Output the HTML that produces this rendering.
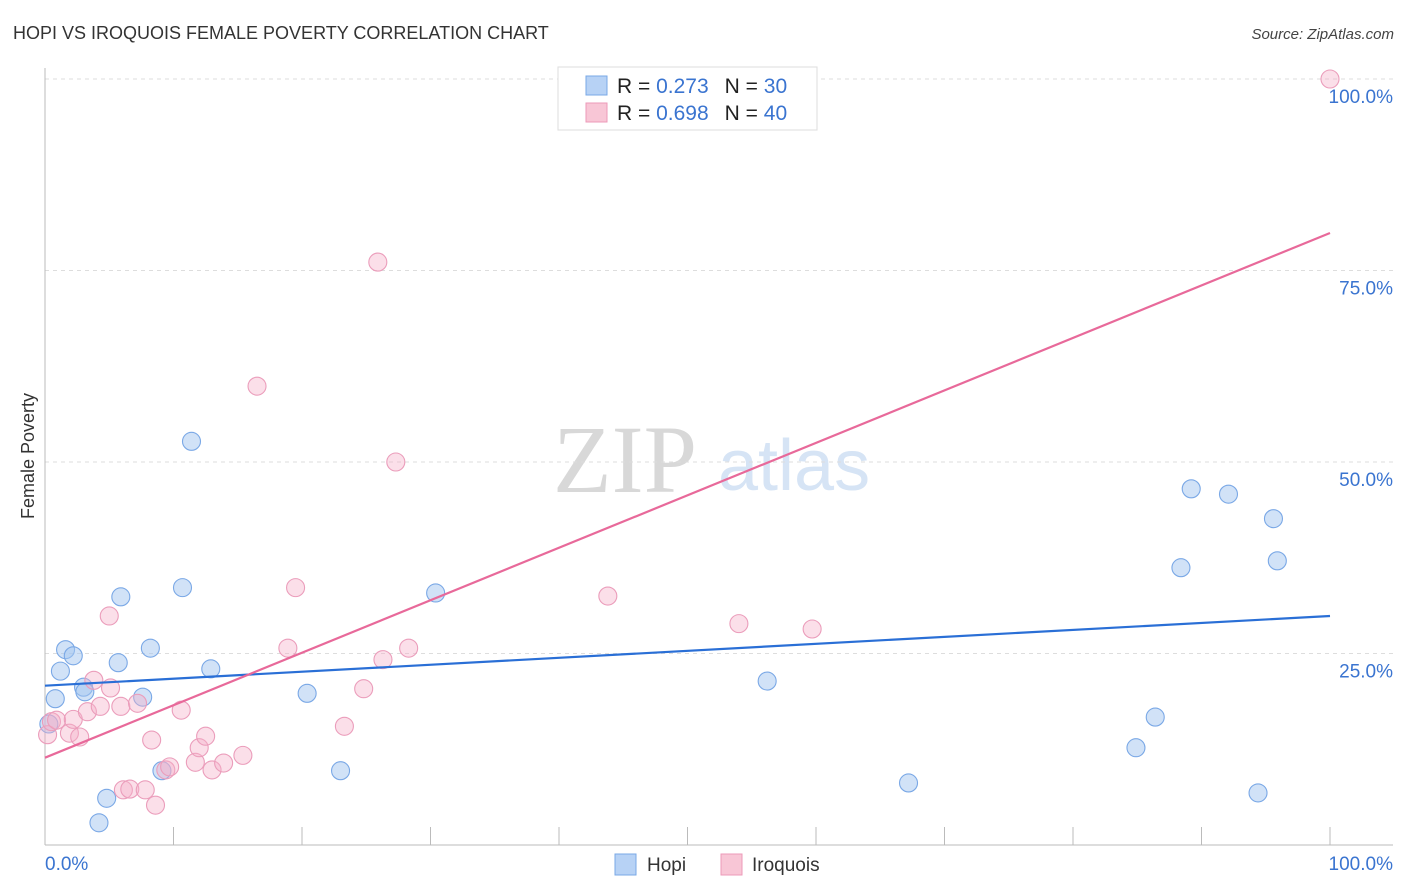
<!DOCTYPE html>
<html><head><meta charset="utf-8"><style>
body{margin:0;background:#fff;font-family:"Liberation Sans",sans-serif;}
svg{display:block}
</style></head><body>
<svg width="1406" height="892" viewBox="0 0 1406 892" xmlns="http://www.w3.org/2000/svg">
<text x="13" y="39" font-size="18" fill="#333" font-family="Liberation Sans, sans-serif">HOPI VS IROQUOIS FEMALE POVERTY CORRELATION CHART</text>
<text x="1394" y="39" font-size="15" fill="#444" font-style="italic" text-anchor="end">Source: ZipAtlas.com</text>
<text x="553" y="492" font-size="96" fill="#d8d8d8" font-family="Liberation Serif, serif">ZIP</text>
<text x="718" y="490" font-size="72" fill="#d6e4f5">atlas</text>
<text transform="translate(34,456) rotate(-90)" font-size="18" fill="#333" text-anchor="middle">Female Poverty</text>
<g id="grid"></g>
<g id="axes"></g>
<g id="marks"></g>
<g>
<rect x="558" y="67" width="259" height="63" fill="#fff" stroke="#ddd"/>
<rect x="586" y="76" width="21" height="19" fill="#b7d2f5" stroke="#7aa8e6"/>
<rect x="586" y="103" width="21" height="19" fill="#f8c6d6" stroke="#ec9ab8"/>
<text x="617" y="93" font-size="21" fill="#222">R = <tspan fill="#3a74d0">0.273</tspan><tspan dx="16">N = </tspan><tspan fill="#3a74d0">30</tspan></text>
<text x="617" y="120" font-size="21" fill="#222">R = <tspan fill="#3a74d0">0.698</tspan><tspan dx="16">N = </tspan><tspan fill="#3a74d0">40</tspan></text>
</g>
<g>
<rect x="615" y="854" width="21" height="21" fill="#b7d2f5" stroke="#7aa8e6"/>
<text x="647" y="871" font-size="19" fill="#333">Hopi</text>
<rect x="721" y="854" width="21" height="21" fill="#f8c6d6" stroke="#ec9ab8"/>
<text x="752" y="871" font-size="19" fill="#333">Iroquois</text>
</g>
</svg>
<script>
const hopiX=[0.3,0.8,1.2,1.6,2.2,3.0,3.1,4.8,4.2,5.7,5.9,7.6,8.2,9.1,10.7,11.4,12.9,20.4,23.0,30.4,56.2,67.2,84.9,86.4,88.4,89.2,92.1,94.4,95.6,95.9];
const hopiY=[15.8,19.1,22.7,25.5,24.7,20.6,20.0,6.1,2.9,23.8,32.4,19.3,25.7,9.7,33.6,52.7,23.0,19.8,9.7,32.9,21.4,8.1,12.7,16.7,36.2,46.5,45.8,6.8,42.6,37.1];
const iroX=[0.2,0.5,0.9,1.9,2.2,2.7,3.3,3.8,4.3,5.0,5.1,5.9,6.1,6.6,7.2,7.8,8.3,8.6,9.4,9.7,10.6,11.7,12.0,12.5,13.0,13.9,15.4,16.5,18.9,19.5,23.3,24.8,25.9,26.3,27.3,28.3,43.8,54.0,59.7,100];
const iroY=[14.4,16.1,16.3,14.6,16.4,14.1,17.4,21.5,18.1,29.9,20.5,18.1,7.2,7.3,18.5,7.2,13.7,5.2,9.8,10.2,17.6,10.8,12.7,14.2,9.8,10.7,11.7,59.9,25.7,33.6,15.5,20.4,76.1,24.2,50.0,25.7,32.5,28.9,28.2,100];
const hopiTrend=[20.8,29.9];
const iroTrend=[11.4,79.9];
const yTicks=[25,50,75,100];
const yTickLabels=["25.0%","50.0%","75.0%","100.0%"];
const xTicks=[10,20,30,40,50,60,70,80,90,100];

const NS="http://www.w3.org/2000/svg";
const sx=v=>45+v*12.85, sy=v=>845-v*7.66;
function mk(tag,attrs,parent){const e=document.createElementNS(NS,tag);for(const k in attrs)e.setAttribute(k,attrs[k]);document.getElementById(parent).appendChild(e);return e;}
yTicks.forEach((t,i)=>{
  const g=mk('line',{x1:45,x2:1393,y1:sy(t),y2:sy(t),stroke:'#ddd','stroke-dasharray':'4,4'},'grid');
  
  
  const l=mk('text',{x:1393,y:sy(t)+24,'font-size':19,fill:'#3a74d0','text-anchor':'end'},'axes');
  l.textContent=yTickLabels[i];
  
  
});
let a=mk('line',{x1:45,x2:45,y1:68,y2:845,stroke:'#bbb'},'axes');


a=mk('line',{x1:45,x2:1393,y1:845,y2:845,stroke:'#bbb'},'axes');


xTicks.forEach(t=>{const e=mk('line',{x1:sx(t),x2:sx(t),y1:827,y2:845,stroke:'#bbb'},'axes');
  
  });
let t=mk('text',{x:45,y:870,'font-size':19,fill:'#3a74d0'},'axes');t.textContent='0.0%';


t=mk('text',{x:1393,y:870,'font-size':19,fill:'#3a74d0','text-anchor':'end'},'axes');t.textContent='100.0%';


hopiX.forEach((x,i)=>{const c=mk('circle',{cx:sx(x),cy:sy(hopiY[i]),r:9,fill:'rgba(164,198,240,0.5)',stroke:'#7aa8e6','stroke-width':1.1},'marks');
  
  });
iroX.forEach((x,i)=>{const c=mk('circle',{cx:sx(x),cy:sy(iroY[i]),r:9,fill:'rgba(244,175,200,0.4)',stroke:'#eb9dbb','stroke-width':1.1},'marks');
  
  });
let L=mk('line',{x1:sx(0),x2:sx(100),y1:sy(hopiTrend[0]),y2:sy(hopiTrend[1]),stroke:'#2a6fd6','stroke-width':2.2},'marks');


L=mk('line',{x1:sx(0),x2:sx(100),y1:sy(iroTrend[0]),y2:sy(iroTrend[1]),stroke:'#e8699a','stroke-width':2.2},'marks');


</script>
</body></html>
